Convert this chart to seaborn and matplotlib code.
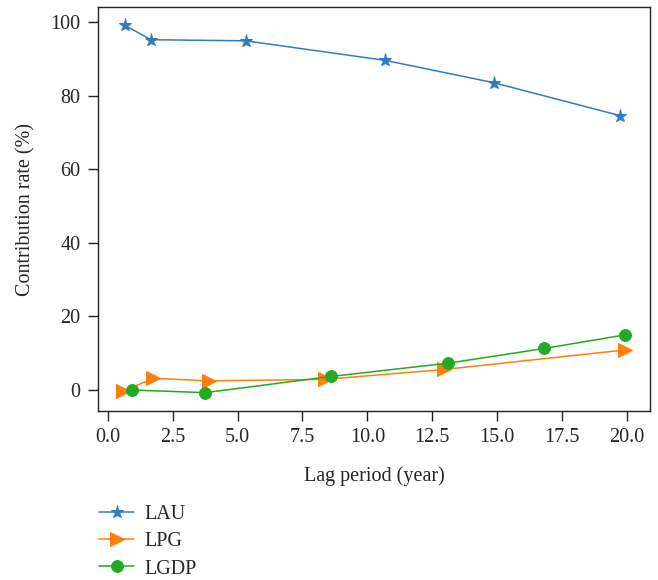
import numpy as np
import pandas as pd
import matplotlib
matplotlib.use("Agg")
import matplotlib.pyplot as plt
import seaborn as sns

# Data
lau_x = [0.66, 1.66, 5.31, 10.68, 14.88, 19.72]
lau_y = [99.1, 95.2, 94.9, 89.6, 83.5, 74.6]
lpg_x = [0.59, 1.76, 3.9, 8.36, 12.97, 19.92]
lpg_y = [-0.3, 3.2, 2.5, 2.9, 5.6, 10.9]
lgdp_x = [0.95, 3.76, 8.6, 13.1, 16.82, 19.92]
lgdp_y = [0.0, -0.7, 3.7, 7.3, 11.3, 15.0]
series_names = ["LAU", "LPG", "LGDP"]
x_label = "Lag period (year)"
y_label = "Contribution rate (%)"

sns.set_style("ticks")
plt.rcParams["font.family"] = ["Liberation Serif", "DejaVu Serif"]
plt.rcParams["font.size"] = 14

fig = plt.figure(figsize=(6.58, 5.8), dpi=100)
ax = fig.add_axes([98 / 658, 1 - 411 / 580, (650 - 98) / 658, (411 - 7) / 580])

styles = [
    (lau_x, lau_y, "#2f7dc0", "*", 9.5),
    (lpg_x, lpg_y, "#ff7f0e", ">", 10),
    (lgdp_x, lgdp_y, "#22aa22", "o", 8.5),
]
for name, (xs, ys, col, mk, ms) in zip(series_names, styles):
    df = pd.DataFrame({"x": xs, "y": ys})
    sns.lineplot(data=df, x="x", y="y", ax=ax, color=col, marker=mk,
                 markersize=ms, markeredgecolor=col, linewidth=1.1,
                 label=name, sort=False)

ax.set_xlabel(x_label, fontsize=14.5, labelpad=13.5)
ax.set_ylabel(y_label, fontsize=14.5, labelpad=11)
ax.set_xticks(np.arange(0, 20.1, 2.5))
ax.set_xticklabels([f"{v:.1f}" for v in np.arange(0, 20.1, 2.5)])
ax.set_yticks([0, 20, 40, 60, 80, 100])
ax.tick_params(axis="both", labelsize=14.5, length=7.5, width=1, color="#222222")
ax.tick_params(axis="x", pad=5)
ax.tick_params(axis="y", pad=5)
for sp in ax.spines.values():
    sp.set_visible(True)
    sp.set_linewidth(1.0)
    sp.set_color("#222222")

leg = ax.legend(loc="upper left", bbox_to_anchor=(-0.0125, -0.213), frameon=False,
                fontsize=14.5, handlelength=1.75, handletextpad=0.5,
                labelspacing=0.4, borderaxespad=0)

fig.savefig("out.png", dpi=100)
